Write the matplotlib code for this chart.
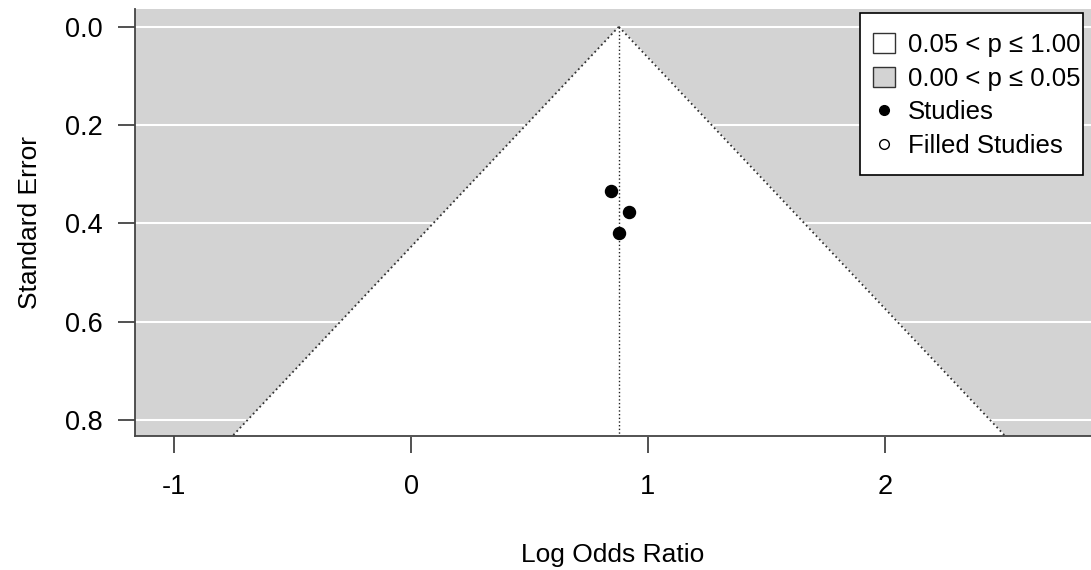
import numpy as np
import matplotlib.pyplot as plt
from matplotlib.patches import Patch, Rectangle
from matplotlib.lines import Line2D

plt.rcParams['font.family'] = ['Liberation Sans', 'DejaVu Sans']

# study estimates (log odds ratio) and their standard errors
log_or = [0.843, 0.921, 0.876]
se = [0.334, 0.376, 0.419]
pooled = 0.877
yticks = [0.0, 0.2, 0.4, 0.6, 0.8]
xticks = [-1, 0, 1, 2]
legend_labels = ['0.05 < p ≤ 1.00', '0.00 < p ≤ 0.05', 'Studies', 'Filled Studies']

ymax = 0.832
xlo, xhi = -1.165, 2.87
W, H = 1091, 570

fig = plt.figure(figsize=(W / 100, H / 100), dpi=100)
ax = fig.add_axes([135 / W, 1 - 436 / H, 1 - 135 / W, 427 / H])

ax.set_facecolor('#d3d3d3')
for t in yticks:
    ax.axhline(t, color='white', lw=1.5, zorder=1)

# contour region: pooled estimate +/- 1.96 * SE
se_grid = np.array([0.0, ymax])
z = 1.96
ax.fill_betweenx(se_grid, pooled - z * se_grid, pooled + z * se_grid,
                 color='white', zorder=2)
ax.plot(pooled - z * se_grid, se_grid, ls=':', color='#333333', lw=1.3, zorder=3)
ax.plot(pooled + z * se_grid, se_grid, ls=':', color='#333333', lw=1.3, zorder=3)
ax.plot([pooled, pooled], [0.0, ymax], ls=':', color='#222222', lw=1.0, zorder=3)

ax.scatter(log_or, se, s=75, color='black', zorder=4)

ax.set_xlim(xlo, xhi)
ax.set_ylim(ymax, -0.036)
ax.set_xticks(xticks)
ax.set_yticks(yticks)
ax.set_xticklabels([str(v) for v in xticks])
ax.set_yticklabels([f'{v:.1f}' for v in yticks])
ax.tick_params(axis='both', labelsize=19.5, length=12, width=1.2, color='#333333')
ax.tick_params(axis='x', pad=15)
ax.tick_params(axis='y', pad=11)

for side in ['top', 'right']:
    ax.spines[side].set_visible(False)
for side in ['left', 'bottom']:
    ax.spines[side].set_color('#444444')
    ax.spines[side].set_linewidth(1.3)

ax.set_xlabel('Log Odds Ratio', fontsize=19, labelpad=31)
ax.set_ylabel('Standard Error', fontsize=19, labelpad=17)

# legend box drawn separately so its padding can be uneven
fig.patches.append(Rectangle((860 / W, 1 - 175 / H), 223 / W, 162 / H,
                             transform=fig.transFigure, facecolor='white',
                             edgecolor='black', lw=1.2, zorder=5))

handles = [
    Patch(facecolor='white', edgecolor='#333333', lw=1.0),
    Patch(facecolor='#d3d3d3', edgecolor='#333333', lw=1.0),
    Line2D([], [], ls='none', marker='o', color='black', markersize=7),
    Line2D([], [], ls='none', marker='o', mfc='white', mec='black', markersize=7),
]
leg = fig.legend(handles, legend_labels, loc='upper left',
                 bbox_to_anchor=(873 / W, 1 - 33 / H),
                 fontsize=18.5, frameon=False,
                 handlelength=0.85, handleheight=0.85,
                 handletextpad=0.5, labelspacing=0.37, borderpad=0,
                 borderaxespad=0)
leg.set_zorder(6)

fig.savefig('out.png', dpi=100)
